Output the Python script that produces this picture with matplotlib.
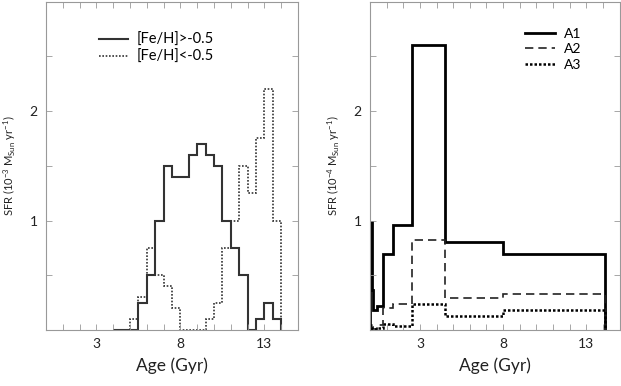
import matplotlib.pyplot as plt
from matplotlib.ticker import FixedLocator

plt.rcParams['font.family'] = ['Lato', 'DejaVu Sans']
plt.rcParams['mathtext.fontset'] = 'custom'
plt.rcParams['mathtext.rm'] = 'Lato'
plt.rcParams['mathtext.it'] = 'Lato'

# left panel: metallicity-split SFH, 0.5 Gyr bins
left_edges = [4.0 + 0.5 * i for i in range(21)]  # 4.0 .. 14.0
sfr_metal_rich = [0, 0, 0, 0.25, 0.5, 1.0, 1.5, 1.4, 1.4, 1.6, 1.7, 1.6, 1.5,
                  1.0, 0.75, 0.5, 0, 0.1, 0.25, 0.1]
poor_edges = [5.0 + 0.5 * i for i in range(19)]  # 5.0 .. 14.0
sfr_metal_poor = [0.1, 0.3, 0.75, 0.5, 0.4, 0.2, 0, 0, 0, 0.1, 0.25, 0.75,
                  1.0, 1.5, 1.25, 1.75, 2.2, 1.0]

# right panel: three fields, log-spaced age bins
right_edges = [0, 0.1, 0.2, 0.45, 0.8, 1.4, 2.5, 4.5, 8.0, 14.1]
sfr_a1 = [0.99, 0.37, 0.18, 0.22, 0.69, 0.96, 2.6, 0.8, 0.69]
sfr_a2 = [0.06, 0.03, 0.01, 0.05, 0.2, 0.24, 0.82, 0.29, 0.33]
sfr_a3 = [0.05, 0.01, 0.01, 0.02, 0.055, 0.04, 0.24, 0.13, 0.18]

xticks = [3, 8, 13]
yticks = [1, 2]

fig = plt.figure(figsize=(6.21, 3.86), dpi=100)
ax1 = fig.add_axes([0.0741, 0.145, 0.4058, 0.851])
ax2 = fig.add_axes([0.5958, 0.145, 0.4020, 0.851])

ax1.stairs(sfr_metal_rich, left_edges, baseline=0, color='#333333', lw=1.5,
           label='[Fe/H]>-0.5')
ax1.stairs(sfr_metal_poor, poor_edges, baseline=0, color='#333333', lw=1.2,
           ls=(0, (1, 1)), label='[Fe/H]<-0.5')

ax2.stairs(sfr_a1, right_edges, baseline=0, color='black', lw=2.0, label='A1')
ax2.stairs(sfr_a2, right_edges, baseline=0, color='#222222', lw=1.2,
           ls=(0, (5, 3)), label='A2')
ax2.stairs(sfr_a3, right_edges, baseline=0, color='black', lw=1.8,
           ls=(0, (1, 0.8)), label='A3')

for ax, exp in [(ax1, '-3'), (ax2, '-4')]:
    ax.set_xlim(0, 15)
    ax.set_ylim(0, 3)
    ax.set_xticks(xticks)
    ax.xaxis.set_minor_locator(FixedLocator(range(1, 15)))
    ax.set_yticks(yticks)
    ax.yaxis.set_minor_locator(FixedLocator([0.5, 1.5, 2.5]))
    ax.tick_params(which='both', direction='in', top=True, right=True,
                   length=4, width=0.6, color='#999999', labelsize=10,
                   labelcolor='#222222')
    ax.tick_params(axis='x', pad=6)
    ax.tick_params(axis='y', pad=6)
    for s in ax.spines.values():
        s.set_color('#999999')
        s.set_linewidth(0.8)
    ax.set_xlabel('Age (Gyr)', fontsize=12.5, color='#222222', labelpad=5)
    ax.set_ylabel('SFR (10$^{' + exp + '}$ M$_{Sun}$ yr$^{-1}$)', fontsize=8,
                  color='#222222', labelpad=8)

ax1.legend(loc='upper left', bbox_to_anchor=(0.21, 0.905), frameon=False,
           fontsize=10.5, handlelength=2.0, handletextpad=0.6, labelspacing=0.2,
           borderpad=0, borderaxespad=0)
ax2.legend(loc='upper left', bbox_to_anchor=(0.62, 0.92), frameon=False,
           fontsize=10, handlelength=2.2, handletextpad=0.6, labelspacing=0.25,
           borderpad=0, borderaxespad=0)

fig.savefig('out.png', dpi=100)
